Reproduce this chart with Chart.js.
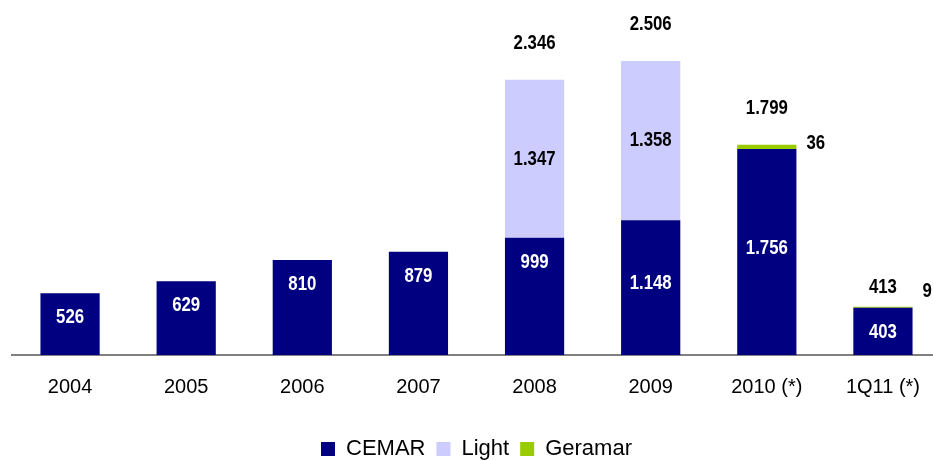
<!DOCTYPE html>
<html>
<head>
<meta charset="utf-8">
<script src="https://cdn.jsdelivr.net/npm/chart.js@4.4.1/dist/chart.umd.min.js"></script>
<style>
  html, body { margin: 0; padding: 0; background: #fff; overflow: hidden; }
  canvas { display: block; }
</style>
</head>
<body>
<canvas id="chart" width="941" height="470"></canvas>
<script>
// Data
const categories = ['2004', '2005', '2006', '2007', '2008', '2009', '2010 (*)', '1Q11 (*)'];
const cemar = [526, 629, 810, 879, 999, 1148, 1756, 403];
const light = [0, 0, 0, 0, 1347, 1358, 0, 0];
const geramar = [0, 0, 0, 0, 0, 0, 36, 9];
const totals = [null, null, null, null, 2346, 2506, 1799, 413];

const SANS = "'Liberation Sans', Arial, sans-serif";

// 1.234 style numbers
const fmt = (v) => String(v).replace(/\B(?=(\d{3})+(?!\d))/g, '.');

// condensed bold text (the original slide squeezes the labels)
function narrowText(ctx, text, x, y, align) {
  ctx.save();
  ctx.translate(x, y);
  ctx.scale(0.8, 1);
  ctx.textAlign = align || 'center';
  ctx.fillText(text, 0, 0);
  ctx.restore();
}

// Value labels
const labelPlugin = {
  id: 'valueLabels',
  afterDatasetsDraw(chart) {
    const ctx = chart.ctx;
    const metaC = chart.getDatasetMeta(0);
    const metaL = chart.getDatasetMeta(1);
    const metaG = chart.getDatasetMeta(2);
    ctx.save();
    ctx.font = "bold 21px " + SANS;
    ctx.textBaseline = 'middle';

    categories.forEach((c, i) => {
      const barC = metaC.data[i];
      const h = barC.base - barC.y;
      // CEMAR inside the bar
      const yC = h > 120 ? (barC.y + barC.base) / 2 - 4 : barC.y + 24;
      ctx.fillStyle = '#ffffff';
      narrowText(ctx, fmt(cemar[i]), barC.x, yC);

      // Light inside its segment
      if (light[i]) {
        const barL = metaL.data[i];
        ctx.fillStyle = '#000000';
        narrowText(ctx, fmt(light[i]), barL.x, (barL.y + barL.base) / 2);
      }

      const barG = metaG.data[i];
      const top = barG.y;
      const full = barC.base - top;
      // Totals above the bar
      if (totals[i] !== null) {
        ctx.fillStyle = '#000000';
        narrowText(ctx, fmt(totals[i]), barC.x, full > 100 ? top - 37 : top - 19);
      }
      // Geramar to the right
      if (geramar[i]) {
        ctx.fillStyle = '#000000';
        narrowText(ctx, fmt(geramar[i]), barG.x + barG.width / 2 + 10, full > 100 ? top - 2 : top - 15, 'left');
      }
    });
    ctx.restore();
  }
};

new Chart(document.getElementById('chart'), {
  type: 'bar',
  data: {
    labels: categories,
    datasets: [
      { label: 'CEMAR', data: cemar, backgroundColor: '#000080' },
      { label: 'Light', data: light, backgroundColor: '#CCCCFF' },
      { label: 'Geramar', data: geramar, backgroundColor: '#99CC00' }
    ]
  },
  options: {
    responsive: false,
    animation: false,
    layout: { padding: { left: 12, right: 0, top: 3, bottom: 0 } },
    datasets: { bar: { barPercentage: 0.51, categoryPercentage: 1 } },
    plugins: {
      tooltip: { enabled: false },
      legend: {
        position: 'bottom',
        labels: {
          color: '#000',
          font: { family: SANS, size: 22 },
          boxWidth: 14,
          boxHeight: 14,
          padding: 11
        }
      }
    },
    scales: {
      x: {
        stacked: true,
        grid: { display: false, drawTicks: false },
        border: { display: true, color: '#808080', width: 2 },
        ticks: { color: '#000', font: { family: SANS, size: 20 }, padding: 20, maxRotation: 0 },
        afterFit(scale) { scale.height += 8; }
      },
      y: {
        stacked: true,
        display: false,
        min: 0,
        max: 3000
      }
    }
  },
  plugins: [labelPlugin]
});
</script>
</body>
</html>
